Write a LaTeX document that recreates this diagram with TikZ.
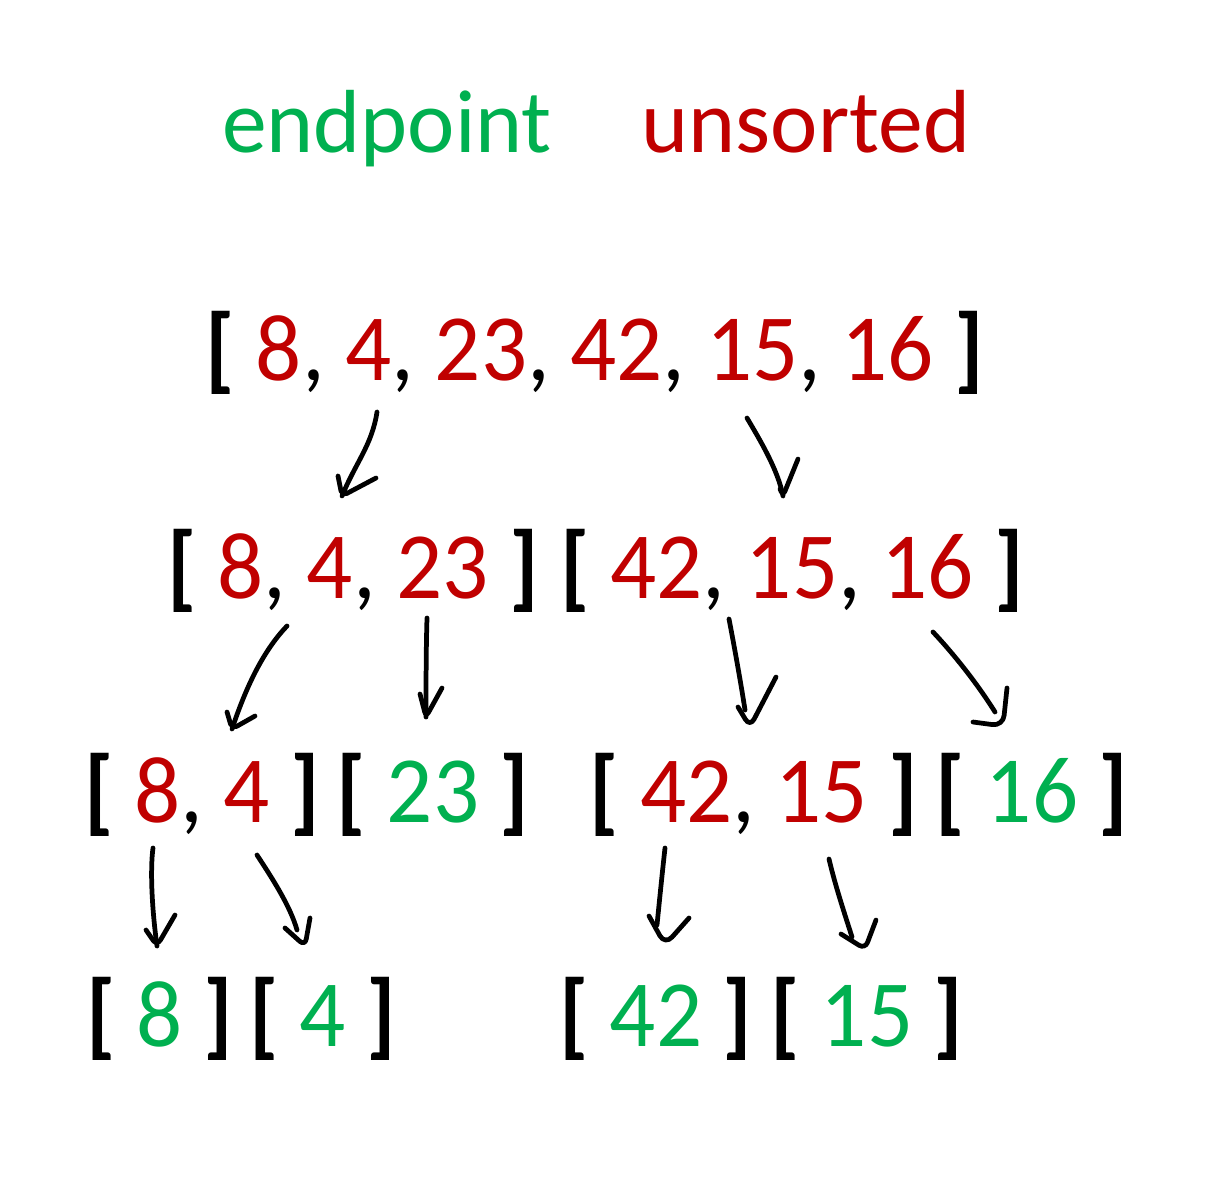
\documentclass[tikz,border=0pt]{standalone}
\usepackage{fontspec}
\setmainfont{Carlito}
\usetikzlibrary{calc}
\definecolor{red}{HTML}{C00000}
\definecolor{grn}{HTML}{00B050}
\newcommand{\R}[1]{\textcolor{red}{#1}}
\newcommand{\G}[1]{\textcolor{grn}{#1}}
\newcommand{\LB}{\textbf{[}}
\newcommand{\RB}{\textbf{]}}
\begin{document}
\begin{tikzpicture}[x=0.02cm,y=-0.02cm,
  arr/.style={inner sep=0pt,anchor=base,xscale=0.96,font=\fontsize{54}{60}\selectfont},
  ttl/.style={inner sep=0pt,anchor=base,font=\fontsize{51}{60}\selectfont},
  pen/.style={line width=2.7pt,line cap=round,line join=round,black}]
\useasboundingbox[fill=white] (0,0) rectangle (1212,1190);
% titles
\node[ttl,text=grn] (t1) at (387,152) {endpoint};
\node[ttl,text=red] (t2) at (806,152) {unsorted};
% row 1
\node[arr] (r1) at (595,380) {\LB{} \R{8}, \R{4}, \R{23}, \R{42}, \R{15}, \R{16} \RB};
% row 2
\node[arr] (r2a) at (353,598) {\LB{} \R{8}, \R{4}, \R{23} \RB};
\node[arr] (r2b) at (792,598) {\LB{} \R{42}, \R{15}, \R{16} \RB};
% row 3
\node[arr] (r3a) at (202,822) {\LB{} \R{8}, \R{4} \RB};
\node[arr] (r3b) at (433,822) {\LB{} \G{23} \RB};
\node[arr] (r3c) at (754,822) {\LB{} \R{42}, \R{15} \RB};
\node[arr] (r3d) at (1032,822) {\LB{} \G{16} \RB};
% row 4
\node[arr] (r4a) at (160,1046) {\LB{} \G{8} \RB};
\node[arr] (r4b) at (323,1046) {\LB{} \G{4} \RB};
\node[arr] (r4c) at (656,1046) {\LB{} \G{42} \RB};
\node[arr] (r4d) at (867,1046) {\LB{} \G{15} \RB};
% arrow 1
\coordinate (a1s) at (377,412); \coordinate (a1t) at (342,496);
\draw[pen] (a1s) .. controls (372,445) and (356,462) .. (a1t);
\draw[pen,rounded corners=3pt] (338,476) -- (a1t) -- (376,478);
% arrow 2
\coordinate (a2s) at (747,418); \coordinate (a2t) at (783,496);
\draw[pen] (a2s) .. controls (760,440) and (778,470) .. (a2t);
\draw[pen,rounded corners=3pt] (780,489) -- (a2t) -- (798,459);
% arrow 3
\coordinate (a3s) at (287,626); \coordinate (a3t) at (232,729);
\draw[pen] (a3s) .. controls (262,652) and (245,690) .. (a3t);
\draw[pen,rounded corners=3pt] (227,712) -- (a3t) -- (255,716);
% arrow 4
\coordinate (a4s) at (427,618); \coordinate (a4t) at (426,717);
\draw[pen] (a4s) .. controls (426,650) and (426,690) .. (a4t);
\draw[pen,rounded corners=3pt] (420,694) -- (a4t) -- (442,688);
% arrow 5
\coordinate (a5s) at (729,619); \coordinate (a5t) at (750,727);
\draw[pen] (a5s) .. controls (735,650) and (742,690) .. (745,710);
\draw[pen,rounded corners=5pt] (738,707) -- (a5t) -- (776,677);
% arrow 6
\coordinate (a6s) at (933,632); \coordinate (a6t) at (1003,726);
\draw[pen] (a6s) .. controls (950,650) and (975,680) .. (995,712);
\draw[pen,rounded corners=6pt] (973,722) -- (a6t) -- (1007,688);
% arrow 7
\coordinate (a7s) at (153,848); \coordinate (a7t) at (157,946);
\draw[pen] (a7s) .. controls (150,870) and (152,910) .. (a7t);
\draw[pen,rounded corners=4pt] (146,930) -- (a7t) -- (175,915);
% arrow 8
\coordinate (a8s) at (257,855); \coordinate (a8t) at (305,946);
\draw[pen] (a8s) .. controls (270,875) and (290,905) .. (297,930);
\draw[pen,rounded corners=4pt] (285,928) -- (a8t) -- (310,918);
% arrow 9
\coordinate (a9s) at (665,848); \coordinate (a9t) at (665,945);
\draw[pen] (a9s) .. controls (662,875) and (659,905) .. (657,925);
\draw[pen,rounded corners=6pt] (649,916) -- (a9t) -- (689,918);
% arrow 10
\coordinate (a10s) at (829,859); \coordinate (a10t) at (865,949);
\draw[pen] (a10s) .. controls (835,885) and (845,915) .. (852,937);
\draw[pen,rounded corners=4pt] (841,934) -- (a10t) -- (876,920);
\end{tikzpicture}
\end{document}
